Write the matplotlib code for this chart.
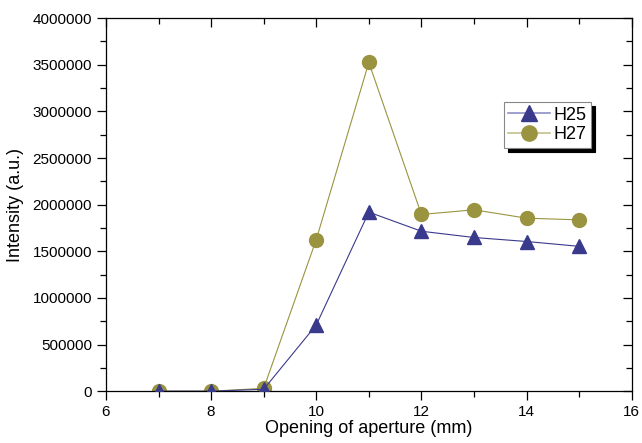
import numpy as np
import matplotlib
matplotlib.use("Agg")
import matplotlib.pyplot as plt
from matplotlib.ticker import MultipleLocator

plt.rcParams['font.family'] = ['Liberation Sans', 'DejaVu Sans']

aperture = [7, 8, 9, 10, 11, 12, 13, 14, 15]
h25 = [0, 0, 20000, 710000, 1920000, 1715000, 1648000, 1605000, 1553000]
h27 = [0, 0, 30000, 1625000, 3525000, 1895000, 1945000, 1855000, 1837000]

blue = '#3a3a8c'
olive = '#9a9440'

fig = plt.figure(figsize=(6.42, 4.43), dpi=100)
ax = fig.add_axes([0.165, 0.117, 0.819, 0.842])

ax.plot(aperture, h25, color=blue, lw=0.8, marker='^', ms=10,
        markerfacecolor=blue, markeredgecolor=blue, label='H25', zorder=3)
ax.plot(aperture, h27, color=olive, lw=0.8, marker='o', ms=10,
        markerfacecolor=olive, markeredgecolor=olive, label='H27', zorder=2)

ax.set_xlim(6, 16)
ax.set_ylim(0, 4000000)
ax.xaxis.set_major_locator(MultipleLocator(2))
ax.xaxis.set_minor_locator(MultipleLocator(1))
ax.yaxis.set_major_locator(MultipleLocator(500000))
ax.yaxis.set_minor_locator(MultipleLocator(250000))
ax.ticklabel_format(axis='y', style='plain')

ax.tick_params(which='both', direction='out', labelsize=11, width=0.9)
ax.tick_params(which='major', length=6.5)
ax.tick_params(which='minor', length=4)
ax.tick_params(axis='x', which='both', top=True)
ax.tick_params(axis='y', which='both', right=True)
# top/right ticks point inward
for t in ax.xaxis.get_ticklines(minor=False)[1::2] + ax.xaxis.get_ticklines(minor=True)[1::2]:
    t.set_marker(3)
for t in ax.yaxis.get_ticklines(minor=False)[1::2] + ax.yaxis.get_ticklines(minor=True)[1::2]:
    t.set_marker(0)
for s in ax.spines.values():
    s.set_linewidth(0.9)

ax.set_xlabel('Opening of aperture (mm)', fontsize=13, labelpad=1)
ax.set_ylabel('Intensity (a.u.)', fontsize=13, labelpad=6)

leg = ax.legend(loc='upper left', bbox_to_anchor=(0.757, 0.775), fontsize=13,
                frameon=True, fancybox=False,
                shadow={'color': 'black', 'alpha': 1.0, 'ox': 3, 'oy': -3},
                edgecolor='#888888', borderpad=0.25, handlelength=2.3,
                handletextpad=0.2, labelspacing=0.15, borderaxespad=0)
leg.get_frame().set_linewidth(0.8)
light = ['#9090c8', '#c4c08a']
for line, c in zip(leg.get_lines(), light):
    line.set_color(c)
    line.set_linewidth(1.2)
    line.set_markersize(11)

fig.savefig('out.png', dpi=100)
